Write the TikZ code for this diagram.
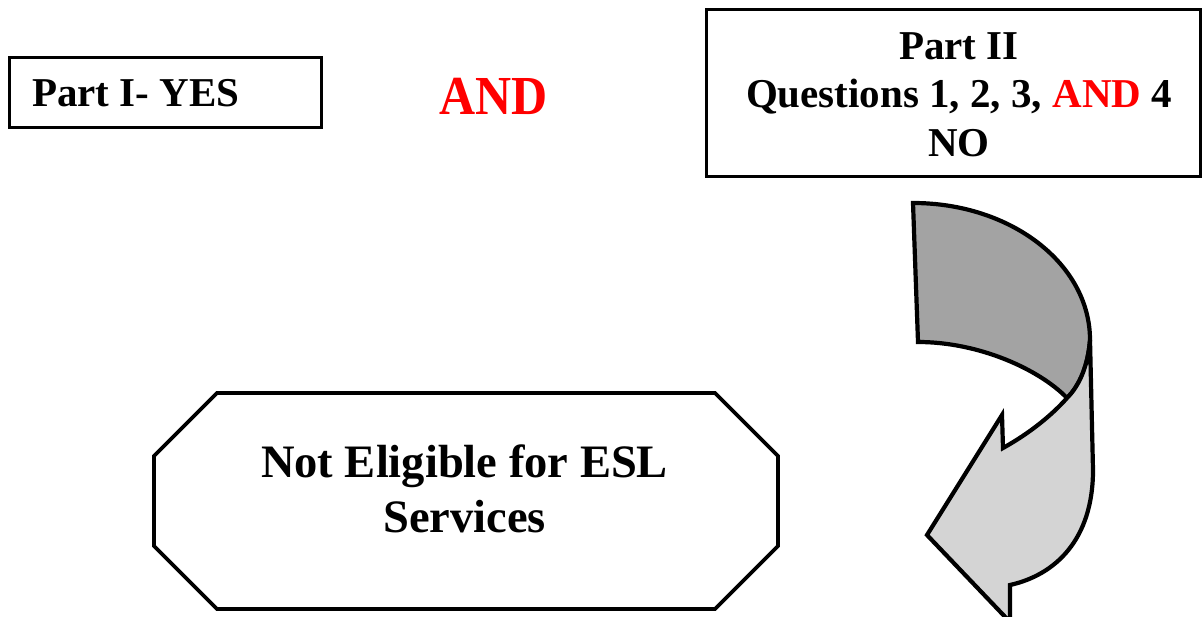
\documentclass[tikz,border=0pt]{standalone}
\usepackage{fontspec}
\setmainfont{Liberation Serif}
\begin{document}
\begin{tikzpicture}[x=1pt,y=-1pt,
  boxline/.style={draw=black,line width=3.8pt,inner sep=0pt},
  lbl/.style={inner sep=0pt,anchor=base,font=\bfseries\fontsize{41}{48}\selectfont},
  biglbl/.style={inner sep=0pt,anchor=base,font=\bfseries\fontsize{46.5}{55}\selectfont},
  darkband/.style={fill=black!36,draw=black,line width=4.2pt,line join=miter},
  lightband/.style={fill=black!17,draw=black,line width=4.2pt,line join=miter}]
\useasboundingbox (0,0) rectangle (1202,617);
% Part I box
\node[boxline,minimum width=312pt,minimum height=70pt] (box1) at (165.5,92.5) {};
\node[lbl,anchor=base west] (t1) at (32,107) {Part I- YES};
% AND
\node[inner sep=0pt,anchor=base,text=red,font=\bfseries\fontsize{50}{56}\selectfont] (andw) at (493.5,115) {\scalebox{1}[1.1]{AND}};
% Part II box
\node[boxline,minimum width=494pt,minimum height=167pt] (box2) at (953.5,93) {};
\node[lbl] (p2a) at (959,60) {Part II};
\node[lbl] (p2b) at (959,108) {Questions 1, 2, 3, \textcolor{red}{AND} 4};
\node[lbl] (p2c) at (959,157) {NO};
% Octagon
\draw[line width=3.8pt,line join=miter] (217,393) -- (715,393) -- (778,456) -- (778,546) -- (715,609) -- (217,609) -- (154,546) -- (154,456) -- cycle;
\node[biglbl] (oct1) at (464.5,477) {Not Eligible for ESL};
\node[biglbl] (oct2) at (464.5,532) {Services};
% Curved arrow
\path[darkband] (913,203) .. controls (1011,203) and (1090,264) .. (1090,340)
  .. controls (1088,365) and (1080,385) .. (1067,398)
  .. controls (1040,370) and (980,342) .. (918,342) -- cycle;
\path[lightband] (1090,340) -- (1093,470) .. controls (1093,540) and (1055,575) .. (1010,585)
  -- (1010,622) -- (927,535) -- (1002,415) -- (1003,448)
  .. controls (1030,433) and (1052,415) .. (1067,398)
  .. controls (1080,385) and (1088,365) .. (1090,340) -- cycle;
\end{tikzpicture}
\end{document}
